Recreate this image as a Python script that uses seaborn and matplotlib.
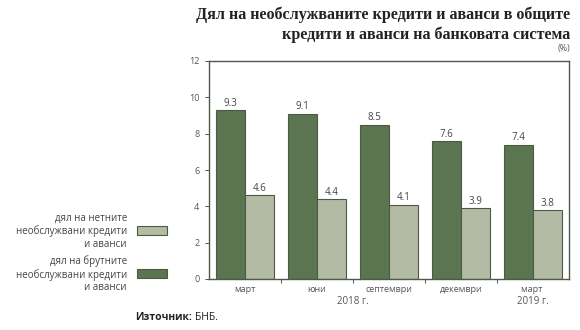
import matplotlib
matplotlib.use("Agg")
import matplotlib.pyplot as plt
from matplotlib.patches import Rectangle
from matplotlib.transforms import blended_transform_factory
import numpy as np
import pandas as pd
import seaborn as sns

# Data
periods = ["март", "юни", "септември", "декември", "март "]
gross_npl = [9.3, 9.1, 8.5, 7.6, 7.4]
net_npl = [4.6, 4.4, 4.1, 3.9, 3.8]
series_names = ["дял на брутните\nнеобслужвани кредити\nи аванси",
                "дял на нетните\nнеобслужвани кредити\nи аванси"]
years = ["2018 г.", "2019 г."]
year_positions = [1.5, 4.0]

title = "Дял на необслужваните кредити и аванси в общите\nкредити и аванси на банковата система"
unit = "(%)"

dark = "#5b7550"
light = "#b3bba5"
edge = "#4a5a44"
text_c = "#555555"

df = pd.DataFrame({
    "period": periods * 2,
    "value": gross_npl + net_npl,
    "series": [series_names[0]] * len(periods) + [series_names[1]] * len(periods),
})

sns.set_theme(style="white")
plt.rcParams["font.family"] = ["Open Sans", "DejaVu Sans"]

fig = plt.figure(figsize=(5.8, 3.3), dpi=100)
ax = fig.add_axes([209 / 580, 1 - 279 / 330, 360 / 580, 218 / 330])

sns.barplot(data=df, x="period", y="value", hue="series", order=periods,
            hue_order=series_names, palette=[dark, light], width=0.8,
            edgecolor=edge, linewidth=0.8, legend=False, ax=ax, saturation=1)

for cont in ax.containers:
    ax.bar_label(cont, fmt="%.1f", padding=1, fontsize=7, color="#444444")

ax.set_ylim(0, 12)
ax.set_yticks(np.arange(0, 13, 2))
ax.set_xlim(-0.5, len(periods) - 0.5)
ax.set_xlabel("")
ax.set_ylabel("")

for s in ax.spines.values():
    s.set_color("#4d5a4a")
    s.set_linewidth(1.0)

ax.tick_params(axis="y", which="major", left=True, length=3, width=0.7,
               color="#555555", labelsize=6.5, labelcolor=text_c, pad=4)
ax.tick_params(axis="x", which="major", bottom=False, labelsize=6.5,
               labelcolor=text_c, pad=-1.5)
ax.set_xticks(np.arange(0.5, len(periods) - 0.5), minor=True)
ax.tick_params(axis="x", which="minor", bottom=True, length=3, width=0.7,
               color="#555555")

trans = blended_transform_factory(ax.transData, fig.transFigure)
for yr, xp in zip(years, year_positions):
    ax.text(xp, 1 - 301 / 330, yr, transform=trans, ha="center", va="center",
            fontsize=7, color=text_c)

# Title and unit
fig.text(570 / 580, 1 - 25 / 330, title, ha="right", va="center",
         fontsize=11.6, fontweight="bold", family=["Liberation Serif"],
         color="#222222", linespacing=1.25)
fig.text(570 / 580, 1 - 48 / 330, unit, ha="right", va="center",
         fontsize=6.5, color=text_c)

# Legend (net on top, gross below)
legend_rows = [(series_names[1], light, 230.5), (series_names[0], dark, 273.5)]
for label, col, yc in legend_rows:
    fig.add_artist(Rectangle((137 / 580, 1 - (yc + 4.5) / 330), 30 / 580, 9 / 330,
                             transform=fig.transFigure, facecolor=col,
                             edgecolor=edge, linewidth=0.8))
    fig.text(127 / 580, 1 - (yc + 1) / 330, label, ha="right", va="center",
             multialignment="right", fontsize=7, color="#444444",
             linespacing=1.2)

# Source
src_bold = fig.text(135 / 580, 1 - 318 / 330, "Източник:", ha="left", va="center",
                    fontsize=7.5, fontweight="bold", color="#222222")
renderer = fig.canvas.get_renderer()
bb = src_bold.get_window_extent(renderer=renderer)
fig.text((bb.x1 + 3) / 580, 1 - 318 / 330, "БНБ.", ha="left", va="center",
         fontsize=7.5, color="#222222")

fig.savefig("out.png", dpi=100)
